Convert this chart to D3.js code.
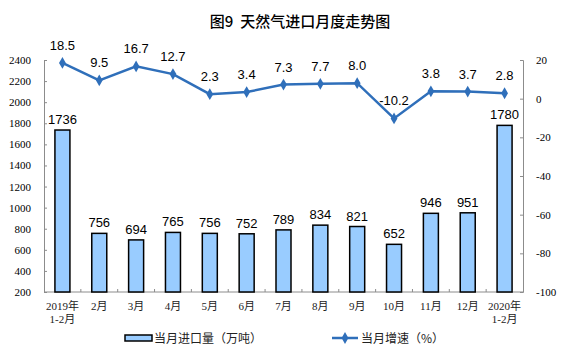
<!DOCTYPE html>
<html><head><meta charset="utf-8">
<script src="https://cdn.jsdelivr.net/npm/d3@7"></script>
<style>body{margin:0;background:#fff}svg{display:block}</style>
</head><body>
<svg id="c" width="561" height="357"></svg>
<script>
const categories = ["2019年\n1-2月","2月","3月","4月","5月","6月","7月","8月","9月","10月","11月","12月","2020年\n1-2月"];
const volume = [1736,756,694,765,756,752,789,834,821,652,946,951,1780];
const growth = [18.5,9.5,16.7,12.7,2.3,3.4,7.3,7.7,8.0,-10.2,3.8,3.7,2.8];
const leftTicks = [200,400,600,800,1000,1200,1400,1600,1800,2000,2200,2400];
const rightTicks = [-100,-80,-60,-40,-20,0,20];
const title = "图9  天然气进口月度走势图";
const legendBar = "当月进口量（万吨）";
const legendLine = "当月增速（%）";

const svg = d3.select("#c");
const L = 44, R = 523, T = 60, B = 292;
const x = d3.scaleBand().domain(d3.range(categories.length)).range([L, R]).paddingInner(0).paddingOuter(0);
const yL = d3.scaleLinear().domain([200, 2400]).range([B, T]);
const yR = d3.scaleLinear().domain([-100, 20]).range([B, T]);
const axisCol = "#8c8c8c";
const lineCol = "#2f6fba";
const barFill = "#99ccff";
const serifCJK = "'Liberation Serif','Noto Sans CJK SC'";

svg.append("text").attr("x", 300).attr("y", 27).attr("text-anchor", "middle")
  .style("white-space", "pre")
  .attr("font-family", "'Noto Sans CJK SC'").attr("font-size", 15).attr("font-weight", 500)
  .attr("fill", "#000").text(title);

// left axis
const gl = svg.append("g").attr("transform", `translate(${L},0)`)
  .call(d3.axisLeft(yL).tickValues(leftTicks).tickSize(-3).tickPadding(13).tickFormat(d => String(d)));
gl.select(".domain").attr("stroke", axisCol);
gl.selectAll(".tick line").attr("stroke", axisCol);
gl.selectAll("text").attr("font-family", "'Liberation Serif'").attr("font-size", 11).attr("fill", "#000");

// right axis
const gr = svg.append("g").attr("transform", `translate(${R},0)`)
  .call(d3.axisRight(yR).tickValues(rightTicks).tickSize(-3).tickPadding(13).tickFormat(d => String(d)));
gr.select(".domain").attr("stroke", axisCol);
gr.selectAll(".tick line").attr("stroke", axisCol);
gr.selectAll("text").attr("font-family", "'Liberation Serif'").attr("font-size", 11).attr("fill", "#000");

// bottom axis
svg.append("line").attr("x1", L).attr("x2", R).attr("y1", B).attr("y2", B).attr("stroke", axisCol);
svg.selectAll(".xt").data(d3.range(1, categories.length)).enter().append("line")
  .attr("x1", i => x(i)).attr("x2", i => x(i)).attr("y1", B).attr("y2", B - 3).attr("stroke", axisCol);

// x labels (one text per line)
categories.forEach((d, i) => {
  d.split("\n").forEach((p, k) => {
    svg.append("text").attr("x", x(i) + x.bandwidth()/2).attr("y", 310 + k*12.5)
      .attr("text-anchor", "middle").attr("font-family", serifCJK).attr("font-size", 11).attr("fill", "#222")
      .text(p);
  });
});

// bars
const bw = 15;
svg.selectAll(".bar").data(volume).enter().append("rect")
  .attr("x", (d, i) => x(i) + x.bandwidth()/2 - bw/2).attr("width", bw)
  .attr("y", d => yL(d)).attr("height", d => B - yL(d))
  .attr("fill", barFill).attr("stroke", "#000").attr("stroke-width", 1.5);
svg.selectAll(".bl").data(volume).enter().append("text")
  .attr("x", (d, i) => x(i) + x.bandwidth()/2).attr("y", d => yL(d) - 6)
  .attr("text-anchor", "middle").attr("font-family", "'Liberation Sans'").attr("font-size", 13).attr("fill", "#000")
  .text(d => d);

// line
const line = d3.line().x((d, i) => x(i) + x.bandwidth()/2).y(d => yR(d));
svg.append("path").datum(growth).attr("d", line).attr("fill", "none").attr("stroke", lineCol).attr("stroke-width", 2.5);
const diamond = d3.symbol().type(d3.symbolDiamond).size(40);
svg.selectAll(".pt").data(growth).enter().append("path").attr("d", diamond)
  .attr("transform", (d, i) => `translate(${x(i) + x.bandwidth()/2},${yR(d)})`).attr("fill", lineCol);
svg.selectAll(".ll").data(growth).enter().append("text")
  .attr("x", (d, i) => x(i) + x.bandwidth()/2).attr("y", d => yR(d) - 13)
  .attr("text-anchor", "middle").attr("font-family", "'Liberation Sans'").attr("font-size", 13).attr("fill", "#000")
  .text(d => d.toFixed(1));

// legend
svg.append("rect").attr("x", 125).attr("y", 335).attr("width", 27).attr("height", 6)
  .attr("fill", barFill).attr("stroke", "#000").attr("stroke-width", 1.5);
svg.append("text").attr("x", 154).attr("y", 342.5).attr("font-family", "'Noto Sans CJK SC'").attr("font-size", 12).attr("fill", "#222").text(legendBar);
svg.append("line").attr("x1", 332).attr("x2", 358).attr("y1", 338).attr("y2", 338).attr("stroke", lineCol).attr("stroke-width", 2.5);
svg.append("path").attr("d", diamond).attr("transform", "translate(345,338)").attr("fill", lineCol);
svg.append("text").attr("x", 361).attr("y", 342.5).attr("font-family", "'Noto Sans CJK SC'").attr("font-size", 12).attr("fill", "#222").text(legendLine);
</script>
</body></html>
